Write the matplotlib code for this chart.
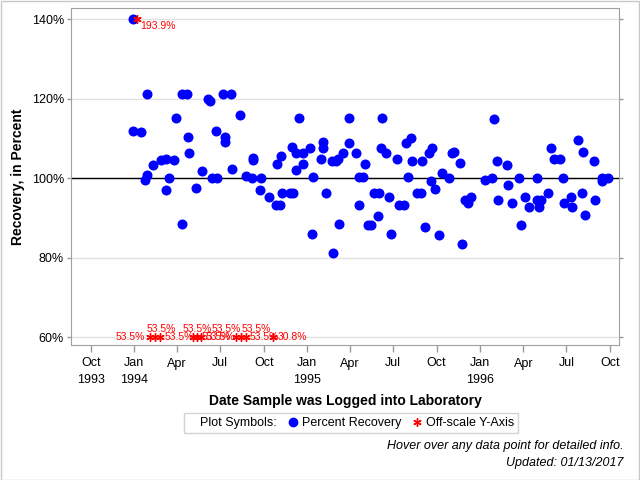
import numpy as np
import matplotlib
matplotlib.use("Agg")
import matplotlib.pyplot as plt
from matplotlib.lines import Line2D
from matplotlib.patches import Rectangle

plt.rcParams['font.family'] = ['Liberation Sans', 'DejaVu Sans']

# percent recovery, regular points
dates = [
    "1993-12-29", "1993-12-29", "1994-01-14", "1994-01-23", "1994-01-28", "1994-01-28",
    "1994-02-09", "1994-02-25", "1994-03-08", "1994-03-09", "1994-03-15", "1994-03-26",
    "1994-03-30", "1994-04-11", "1994-04-12", "1994-04-22", "1994-04-24", "1994-04-26",
    "1994-05-11", "1994-05-24", "1994-06-05", "1994-06-10", "1994-06-13", "1994-06-22",
    "1994-06-25", "1994-07-07", "1994-07-11", "1994-07-11", "1994-07-23", "1994-07-26",
    "1994-08-12", "1994-08-24", "1994-09-07", "1994-09-08", "1994-09-09", "1994-09-23",
    "1994-09-26", "1994-10-12", "1994-10-26", "1994-10-29", "1994-11-04", "1994-11-07",
    "1994-11-09", "1994-11-25", "1994-11-29", "1994-12-02", "1994-12-07", "1994-12-09",
    "1994-12-15", "1994-12-22", "1994-12-23", "1995-01-07", "1995-01-11", "1995-01-13",
    "1995-01-30", "1995-02-03", "1995-02-03", "1995-02-09", "1995-02-22", "1995-02-24",
    "1995-03-02", "1995-03-07", "1995-03-09", "1995-03-18", "1995-03-29", "1995-03-31",
    "1995-04-14", "1995-04-20", "1995-04-21", "1995-04-28", "1995-05-03", "1995-05-09",
    "1995-05-16", "1995-05-22", "1995-05-31", "1995-06-01", "1995-06-06", "1995-06-08",
    "1995-06-16", "1995-06-23", "1995-06-27", "1995-07-09", "1995-07-14", "1995-07-25",
    "1995-07-29", "1995-08-02", "1995-08-08", "1995-08-10", "1995-08-20", "1995-08-29",
    "1995-09-01", "1995-09-07", "1995-09-15", "1995-09-19", "1995-09-21", "1995-09-28",
    "1995-10-06", "1995-10-13", "1995-10-27", "1995-11-02", "1995-11-07", "1995-11-20",
    "1995-11-24", "1995-11-30", "1995-12-07", "1995-12-13", "1996-01-12", "1996-01-26",
    "1996-01-31", "1996-02-06", "1996-02-08", "1996-02-27", "1996-02-29", "1996-03-09",
    "1996-03-23", "1996-03-28", "1996-04-05", "1996-04-12", "1996-04-30", "1996-04-29",
    "1996-05-04", "1996-05-08", "1996-05-24", "1996-05-30", "1996-06-05", "1996-06-18",
    "1996-06-24", "1996-06-26", "1996-07-11", "1996-07-13", "1996-07-26", "1996-08-03",
    "1996-08-05", "1996-08-10", "1996-08-28", "1996-08-31", "1996-09-14", "1996-09-14",
    "1996-09-27",
]
recovery = [
    111.8, 140.0, 111.6, 99.5, 100.8, 121.1,
    103.3, 104.5, 104.9, 97.0, 100.0, 104.5,
    115.1, 88.5, 121.1, 121.1, 110.3, 106.3,
    97.5, 101.8, 119.9, 119.3, 100.0, 111.8,
    100.0, 121.1, 110.3, 109.0, 121.1, 102.3,
    115.8, 100.5, 100.0, 105.0, 104.5, 97.0,
    100.0, 95.2, 93.2, 103.5, 93.2, 105.5,
    96.2, 96.2, 107.8, 96.2, 102.0, 106.3,
    115.1, 106.3, 103.5, 107.5, 85.9, 100.3,
    104.8, 109.0, 107.5, 96.2, 104.3, 81.2,
    104.3, 104.8, 88.5, 106.3, 108.8, 115.1,
    106.3, 93.2, 100.3, 100.3, 103.5, 88.2,
    88.2, 96.2, 90.5, 96.2, 107.5, 115.1,
    106.3, 95.2, 85.9, 104.8, 93.2, 93.2,
    108.8, 100.3, 110.0, 104.3, 96.2, 96.2,
    104.3, 87.7, 106.3, 99.3, 107.5, 97.2,
    85.7, 101.3, 100.0, 106.3, 106.5, 103.8,
    83.4, 94.5, 93.7, 95.2, 99.5, 100.0,
    114.8, 104.3, 94.5, 103.3, 98.2, 93.7,
    100.0, 88.2, 95.2, 92.7, 100.0, 94.5,
    92.7, 94.5, 96.2, 107.5, 104.8, 104.8,
    100.0, 93.7, 95.2, 92.7, 109.5, 96.2,
    106.5, 90.7, 104.3, 94.5, 100.0, 99.3,
    100.0,
]

# off-scale samples
off_dates = ["1994-01-07", "1994-02-02", "1994-02-13", "1994-02-23", "1994-05-04",
             "1994-05-12", "1994-05-21", "1994-08-03", "1994-08-13", "1994-08-24",
             "1994-10-20"]
off_values = [193.9, 53.5, 53.5, 53.5, 53.5, 53.5, 53.5, 53.5, 53.5, 53.5, 30.8]
# label placement (pixel offsets, alignment)
off_label_pos = [(3, -7, 'left'), (-5, 0, 'right'), (-8, 8, 'left'), (5, 0, 'left'),
                 (-10, 8, 'left'), (5, 0, 'left'), (11, 8, 'left'), (6, 8, 'left'),
                 (-6, 0, 'right'), (4, 0, 'left'), (5, 0, 'left')]

y_ticks = [60, 80, 100, 120, 140]
y_labels = ["60%", "80%", "100%", "120%", "140%"]
x_ticks = ["1993-10-01", "1994-01-01", "1994-04-01", "1994-07-01", "1994-10-01",
           "1995-01-01", "1995-04-01", "1995-07-01", "1995-10-01", "1996-01-01",
           "1996-04-01", "1996-07-01", "1996-10-01"]
x_labels = ["Oct\n1993", "Jan\n1994", "Apr", "Jul", "Oct", "Jan\n1995", "Apr", "Jul",
            "Oct", "Jan\n1996", "Apr", "Jul", "Oct"]

y_min, y_max = 58.0, 142.8
y_lo, y_hi = 60, 140

fig = plt.figure(figsize=(6.4, 4.8), dpi=100)
ax = fig.add_axes([71 / 640, 1 - 345 / 480, 548 / 640, 337 / 480])

d = np.array(dates, dtype='datetime64[D]')
od = np.array(off_dates, dtype='datetime64[D]')
ov = np.clip(off_values, y_lo, y_hi)

for yt in y_ticks:
    ax.axhline(yt, color='#e1e1e1', lw=1, zorder=0)
ax.axhline(100, color='black', lw=1, zorder=1)

ax.plot(d, recovery, 'o', color='#0000ff', markersize=6.2, zorder=3)
ax.plot(od, ov, linestyle='none', marker=(6, 2, 0), color='red',
        markersize=6, markeredgewidth=1, zorder=4)
for xd, yv, val, (dx, dy, ha) in zip(od, ov, off_values, off_label_pos):
    ax.annotate(f"{val:.1f}%", (xd, yv), xytext=(dx, dy), textcoords='offset pixels',
                ha=ha, va='center', color='red', fontsize=7.5, zorder=5)

ax.set_ylim(y_min, y_max)
ax.set_xlim(np.datetime64("1993-08-20"), np.datetime64("1996-10-20"))
ax.set_yticks(y_ticks)
ax.set_yticklabels(y_labels, fontsize=9)
ax.set_xticks(np.array(x_ticks, dtype='datetime64[D]'))
ax.set_xticklabels(x_labels, fontsize=9, linespacing=1.45)
ax.tick_params(axis='both', direction='out', color='#999999', width=1)
ax.tick_params(axis='y', right=True, length=3, pad=2)
ax.tick_params(axis='x', length=5, pad=4)
for s in ax.spines.values():
    s.set_color('#a0a0a0')

ax.set_ylabel("Recovery, in Percent", fontsize=10, fontweight='bold', labelpad=5)
ax.set_xlabel("Date Sample was Logged into Laboratory", fontsize=10,
              fontweight='bold', labelpad=6)

handles = [Line2D([], [], linestyle='none'),
           Line2D([], [], marker='o', linestyle='none', color='#0000ff', markersize=6),
           Line2D([], [], marker=(6, 2, 0), linestyle='none', color='red',
                  markersize=6, markeredgewidth=1)]
labels = ["Plot Symbols:", "Percent Recovery", "Off-scale Y-Axis"]
leg = fig.legend(handles, labels, ncol=3, loc='center', bbox_to_anchor=(351 / 640, 1 - 423 / 480),
                 fontsize=9, frameon=True, fancybox=False, handlelength=0.6,
                 handletextpad=0.4, columnspacing=1.0, borderpad=0.3, edgecolor='#c8c8c8')
leg.get_frame().set_linewidth(1)

fig.text(624 / 640, 1 - 446 / 480, "Hover over any data point for detailed info.",
         ha='right', va='center', fontsize=9, style='italic')
fig.text(624 / 640, 1 - 463 / 480, "Updated: 01/13/2017",
         ha='right', va='center', fontsize=9, style='italic')

fig.patches.append(Rectangle((0.001, 0.001), 0.998, 0.997, transform=fig.transFigure,
                             fill=False, edgecolor='#c8c8c8', lw=1))

fig.savefig("out.png", dpi=100)
